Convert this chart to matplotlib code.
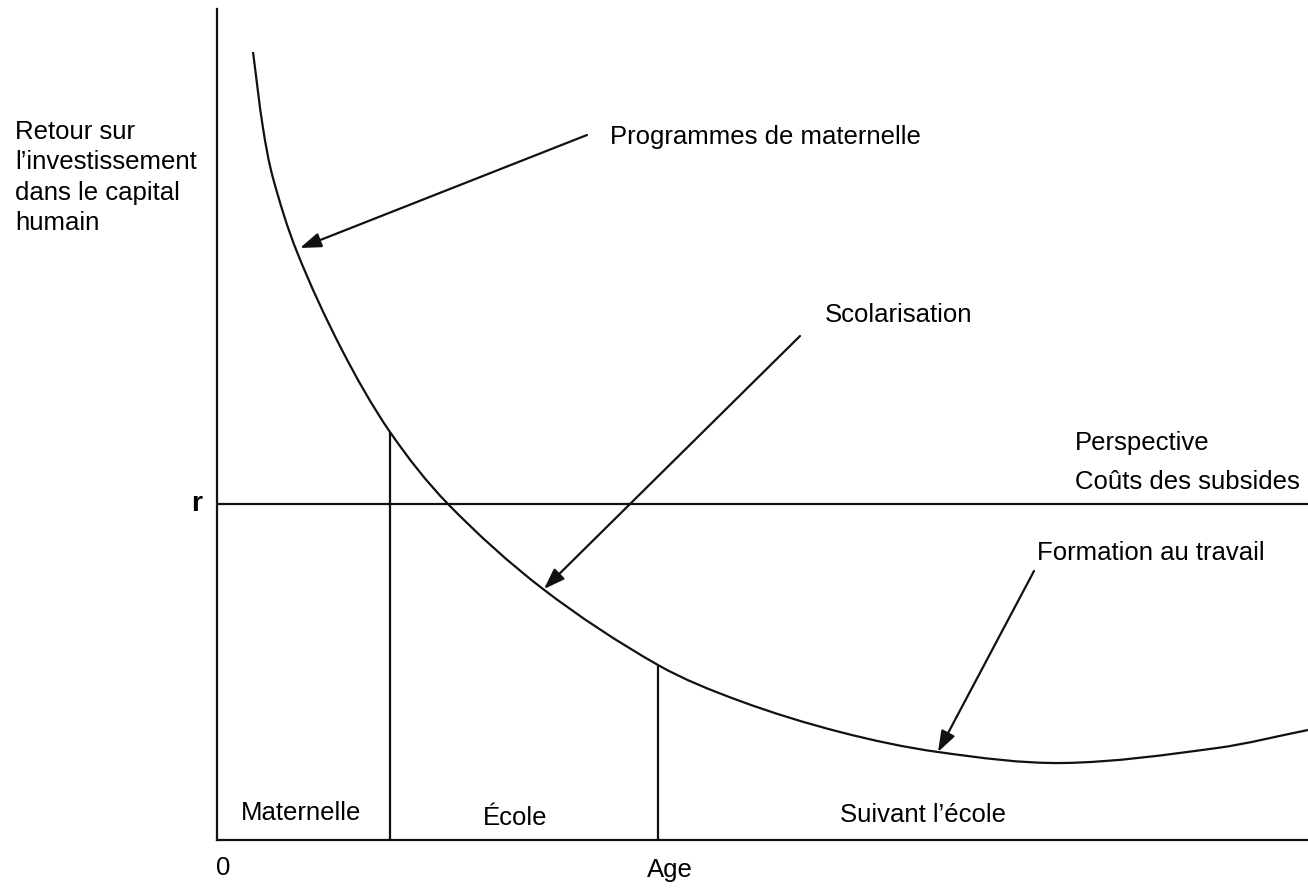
import matplotlib
matplotlib.use('Agg')
import matplotlib.pyplot as plt
import numpy as np
from matplotlib.path import Path
from matplotlib.patches import PathPatch

plt.rcParams['font.family'] = ['Liberation Sans', 'DejaVu Sans']

# Return curve (age vs. return)
curve_x = [36, 46, 56, 80, 125, 173, 231, 326, 441, 523, 623, 721, 846, 1000, 1091]
curve_y = [788, 712, 662, 588, 490, 408, 336, 251, 175, 139, 108, 88, 77, 92, 110]

r_level = 336
stage_bounds_x = [173, 441]
stage_bounds_top = [408, 175]

stage_labels = ['Maternelle', 'École', 'Suivant l\u2019école']
stage_label_x = [84, 298, 706]
stage_label_y = [27, 22, 25]

arrow_labels = ['Programmes de maternelle', 'Scolarisation', 'Formation au travail']
arrow_tail = [(370, 705), (583, 504), (817, 269)]
arrow_tip = [(83, 592), (327, 251), (721, 88)]
arrow_text_pos = [(393, 703), (608, 525), (820, 287)]

side_labels = ['Perspective', 'Coûts des subsides']
side_label_pos = [(858, 397), (858, 358)]

ylabel_text = 'Retour sur\nl\u2019investissement\ndans le capital\nhumain'

FS = 18.5
LW = 1.6
INK = '#111111'


def smooth_path(xs, ys):
    """Chord-length Hermite spline through the read points, as Bezier segments."""
    pts = np.column_stack([xs, ys]).astype(float)
    seg = np.linalg.norm(np.diff(pts, axis=0), axis=1)
    t = np.concatenate([[0], np.cumsum(seg)])
    n = len(pts)
    tang = np.zeros_like(pts)
    for i in range(n):
        a, b = max(i - 1, 0), min(i + 1, n - 1)
        tang[i] = (pts[b] - pts[a]) / (t[b] - t[a])
    verts = [pts[0]]
    codes = [Path.MOVETO]
    for i in range(n - 1):
        h = t[i + 1] - t[i]
        verts += [pts[i] + tang[i] * h / 3, pts[i + 1] - tang[i + 1] * h / 3, pts[i + 1]]
        codes += [Path.CURVE4] * 3
    return Path(verts, codes)


fig = plt.figure(figsize=(13.08, 8.89), dpi=100)
ax = fig.add_axes([217 / 1308, 49 / 889, 1091 / 1308, 831 / 889])
ax.set_xlim(0, 1091)
ax.set_ylim(0, 831)
for side in ['top', 'right']:
    ax.spines[side].set_visible(False)
for side in ['left', 'bottom']:
    ax.spines[side].set_linewidth(LW)
    ax.spines[side].set_color(INK)
ax.set_xticks([])
ax.set_yticks([])

# curve and reference lines
ax.add_patch(PathPatch(smooth_path(curve_x, curve_y), fill=False, edgecolor=INK,
                       lw=LW, clip_on=False))
ax.axhline(r_level, color=INK, lw=LW)
ax.vlines(stage_bounds_x, 0, stage_bounds_top, color=INK, lw=LW)

for lab, x, y in zip(stage_labels, stage_label_x, stage_label_y):
    ax.text(x, y, lab, fontsize=FS, ha='center', va='center')

# arrows pointing at the curve
for lab, tail, tip, pos in zip(arrow_labels, arrow_tail, arrow_tip, arrow_text_pos):
    ax.annotate('', xy=tip, xytext=tail,
                arrowprops=dict(arrowstyle='-|>,head_length=0.85,head_width=0.3',
                                color=INK, lw=LW, shrinkA=0, shrinkB=0,
                                mutation_scale=15))
    ax.text(pos[0], pos[1], lab, fontsize=FS, ha='left', va='center')

for lab, pos in zip(side_labels, side_label_pos):
    ax.text(pos[0], pos[1], lab, fontsize=FS, ha='left', va='center')

# axis labels
ax.text(-202, 720, ylabel_text, fontsize=FS, ha='left', va='top',
        linespacing=1.33, clip_on=False)
ax.text(-15, r_level, 'r', fontsize=FS + 2, fontweight='bold', ha='right',
        va='center', clip_on=False)
ax.text(6, -28, '0', fontsize=FS, ha='center', va='center', clip_on=False)
ax.text(453, -30, 'Age', fontsize=FS, ha='center', va='center', clip_on=False)

fig.savefig('out.png', dpi=100)
